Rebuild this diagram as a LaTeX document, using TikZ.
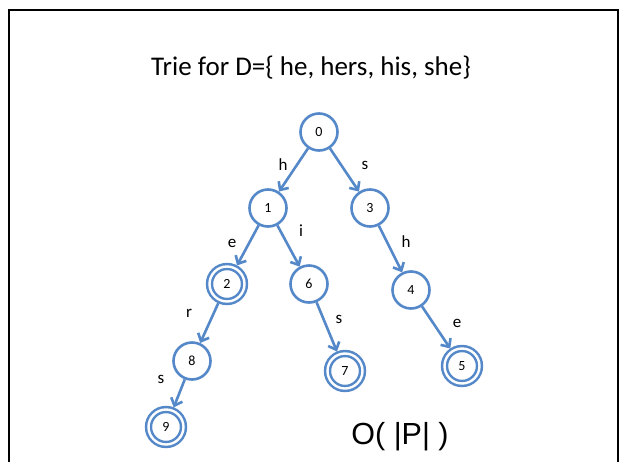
\documentclass[tikz,border=0pt]{standalone}
\usepackage{fontspec}
\setmainfont{Carlito}
\newfontfamily\arialf{Liberation Sans}
\usetikzlibrary{arrows.meta}
\definecolor{trieblue}{RGB}{84,136,200}
\begin{document}
\begin{tikzpicture}[x=1pt,y=-1pt,
  st/.style={circle,draw=trieblue,line width=2.6pt,minimum size=37pt,inner sep=0pt,font=\fontsize{14}{16}\selectfont},
  acc/.style={circle,draw=trieblue,line width=2.5pt,double=white,double distance=2.4pt,minimum size=35pt,inner sep=0pt,outer sep=3.6pt,font=\fontsize{14}{16}\selectfont},
  tr/.style={draw=trieblue,line width=2.6pt,-{Straight Barb[length=6.5pt,width=12pt,line width=2.6pt]}},
  lab/.style={font=\fontsize{17}{19}\selectfont,inner sep=0pt}]
\useasboundingbox (0,0) rectangle (621,461);
\fill[white] (0,0) rectangle (621,461);
\draw[line width=2pt] (9,10) rectangle (618,480);
\node[font=\fontsize{27}{31}\selectfont] (title) at (311,68) {Trie for D=\{ he, hers, his, she\}};
\node[st] (n0) at (319,132) {0};
\node[st] (n1) at (268,208) {1};
\node[st] (n3) at (370,208) {3};
\node[acc] (n2) at (227,284) {2};
\node[st] (n6) at (309,284) {6};
\node[st] (n4) at (411,290) {4};
\node[st] (n8) at (192,361) {8};
\node[acc] (n9) at (166,427) {9};
\node[acc] (n7) at (345,371) {7};
\node[acc] (n5) at (462,366) {5};
\draw[tr] (n0) -- (n1);
\draw[tr] (n0) -- (n3);
\draw[tr] (n1) -- (n2);
\draw[tr] (n1) -- (n6);
\draw[tr] (n3) -- (n4);
\draw[tr] (n2) -- (n8);
\draw[tr] (n6) -- (n7);
\draw[tr] (n4) -- (n5);
\draw[tr] (n8) -- (n9);
\node[lab] (l01) at (283,165) {h};
\node[lab] (l03) at (365,165) {s};
\node[lab] (l12) at (232,243) {e};
\node[lab] (l16) at (301,231) {i};
\node[lab] (l34) at (406,242) {h};
\node[lab] (l28) at (189,313) {r};
\node[lab] (l67) at (339,319) {s};
\node[lab] (l45) at (457,323) {e};
\node[lab] (l89) at (161,379) {s};
\node[font=\arialf\fontsize{30.5}{34}\selectfont] (cplx) at (400,437) {O( |P| )};
\end{tikzpicture}
\end{document}
